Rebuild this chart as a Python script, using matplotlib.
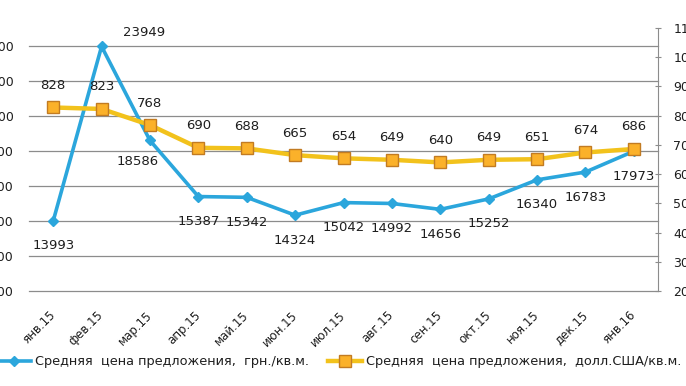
import matplotlib
matplotlib.use("Agg")
import matplotlib.pyplot as plt
from matplotlib.lines import Line2D

months = ["янв.15", "фев.15", "мар.15", "апр.15", "май.15", "июн.15", "июл.15",
          "авг.15", "сен.15", "окт.15", "ноя.15", "дек.15", "янв.16"]
price_uah = [13993, 23949, 18586, 15387, 15342, 14324, 15042,
             14992, 14656, 15252, 16340, 16783, 17973]
price_usd = [828, 823, 768, 690, 688, 665, 654, 649, 640, 649, 651, 674, 686]
left_ticks = [10000, 12000, 14000, 16000, 18000, 20000, 22000, 24000]
right_ticks = [200, 300, 400, 500, 600, 700, 800, 900, 1000, 1100]
label_uah = "Средняя  цена предложения,  грн./кв.м."
label_usd = "Средняя  цена предложения,  долл.США/кв.м."

BLUE = "#2ba6dc"
GOLD = "#f2c21c"
SQUARE = "#fbb12a"
SQUARE_EDGE = "#c27b22"
GRID = "#8c8c8c"
TXT = "#1e1e1e"

plt.rcParams["font.family"] = "DejaVu Sans"

W, H = 686, 386
fig = plt.figure(figsize=(W / 100, H / 100), dpi=100)
ax = fig.add_axes([29 / W, 95 / H, 629 / W, 263 / H])
ax2 = ax.twinx()

x = list(range(len(months)))

# ---- left axis: UAH per sq.m --------------------------------------------
ax.plot(x, price_uah, color=BLUE, lw=2.6, marker="D", ms=5,
        mfc=BLUE, mec=BLUE, zorder=3)
ax.set_xlim(-0.5, len(months) - 0.5)
ax.set_ylim(10000, 25000)
ax.set_yticks(left_ticks)
ax.set_yticklabels([str(v) for v in left_ticks])
ax.grid(axis="y", color=GRID, lw=0.9)
for gl in ax.get_ygridlines():
    gl.set_clip_on(False)
ax.set_axisbelow(True)
ax.tick_params(axis="y", length=0, pad=11, labelsize=9, labelcolor=TXT)
ax.set_xticks(x)
ax.set_xticklabels(months, rotation=45, ha="right", va="center",
                   rotation_mode="anchor", fontsize=8.5, color=TXT)
ax.tick_params(axis="x", length=0, pad=16)
for s in ["top", "left", "right", "bottom"]:
    ax.spines[s].set_visible(False)

for i, v in enumerate(price_uah):
    dx, dy = 0, -25
    if i == 1:
        dx, dy = 42, 14
    elif i == 2:
        dx, dy = -12, -21
    ax.annotate(str(v), (i, v), textcoords="offset pixels", xytext=(dx, dy),
                ha="center", va="center", fontsize=9.5, color=TXT)

# ---- right axis: USD per sq.m -------------------------------------------
ax2.plot(x, price_usd, color=GOLD, lw=3.2, marker="s", ms=8.5,
         mfc=SQUARE, mec=SQUARE_EDGE, mew=1, zorder=4)
ax2.set_ylim(200, 1100)
ax2.set_yticks(right_ticks)
ax2.set_yticklabels([str(v) for v in right_ticks])
ax2.tick_params(axis="y", length=4, direction="inout", color=GRID, pad=9,
                labelsize=9, labelcolor=TXT)
for s in ["top", "left", "bottom"]:
    ax2.spines[s].set_visible(False)
ax2.spines["right"].set_color(GRID)

for i, v in enumerate(price_usd):
    ax2.annotate(str(v), (i, v), textcoords="offset pixels", xytext=(0, 22),
                 ha="center", va="center", fontsize=9.5, color=TXT)

# ---- legend ---------------------------------------------------------------
handles = [
    Line2D([], [], color=BLUE, lw=2.6, marker="D", ms=5, mfc=BLUE, mec=BLUE),
    Line2D([], [], color=GOLD, lw=3.2, marker="s", ms=8.5, mfc=SQUARE,
           mec=SQUARE_EDGE),
]
fig.legend(handles, [label_uah, label_usd], loc="center left",
           bbox_to_anchor=(-0.004, 24 / H), ncol=2, frameon=False,
           fontsize=9.3, handlelength=2.6, handletextpad=0.3,
           columnspacing=1.5, borderpad=0, borderaxespad=0,
           labelcolor=TXT)

fig.savefig("out.png", dpi=100, facecolor="white")
